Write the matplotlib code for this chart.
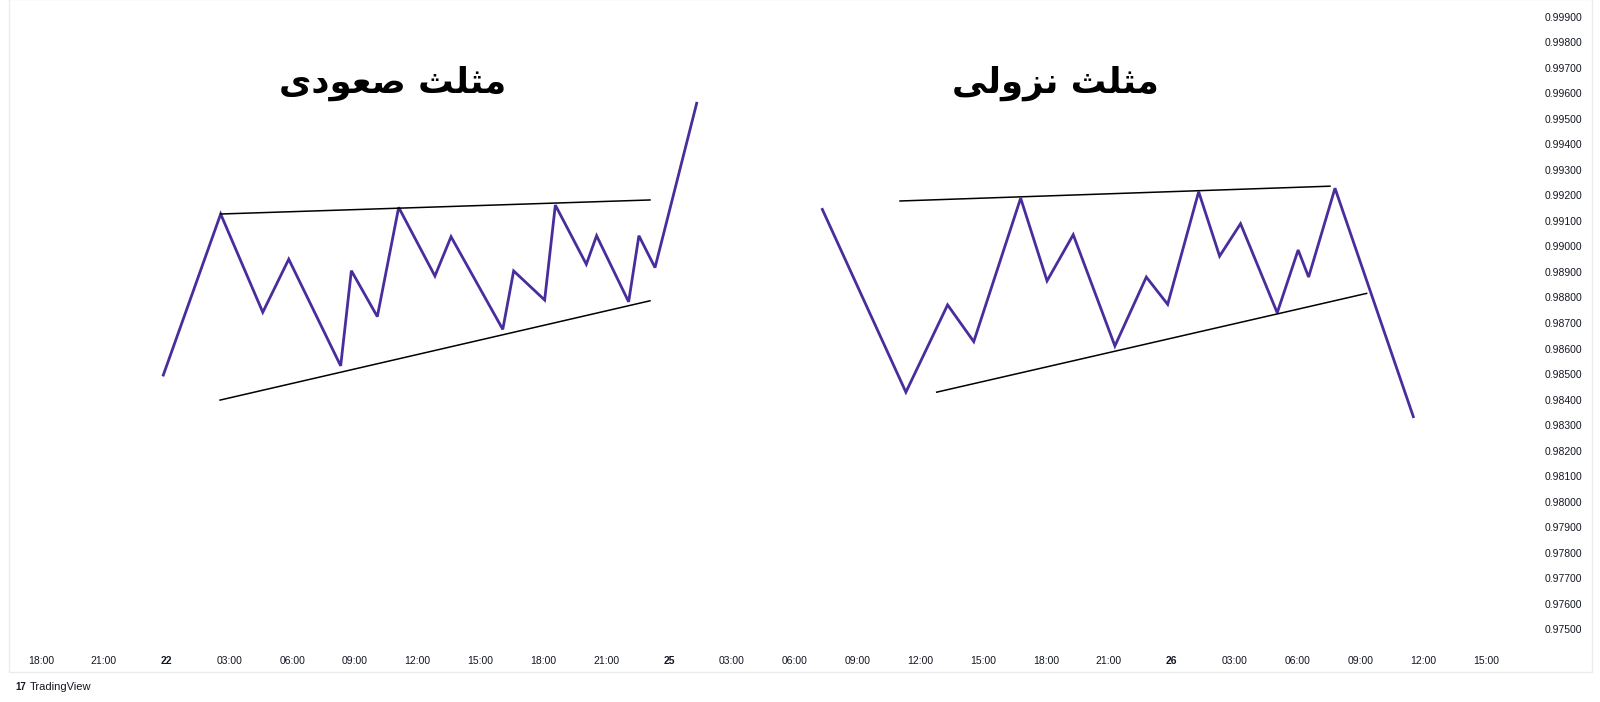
import matplotlib
matplotlib.use("Agg")
import matplotlib.pyplot as plt
from matplotlib.patches import Rectangle

# time axis in trading hours from the first "18:00" label (weekend skipped)
tick_hours = list(range(0, 70, 3))
tick_labels = ["18:00", "21:00", "22", "03:00", "06:00", "09:00", "12:00", "15:00",
               "18:00", "21:00", "25", "03:00", "06:00", "09:00", "12:00", "15:00",
               "18:00", "21:00", "26", "03:00", "06:00", "09:00", "12:00", "15:00"]
price_ticks = [round(0.975 + i * 0.001, 3) for i in range(25)]

# ascending triangle (left)
asc_t = [5.85, 8.59, 10.60, 11.84, 14.32, 14.83, 16.07, 17.09, 18.82, 19.59,
         22.06, 22.58, 24.06, 24.57, 26.05, 26.54, 28.07, 28.56, 29.33, 31.32]
asc_v = [0.98496, 0.99127, 0.98742, 0.98950, 0.98532, 0.98905, 0.98725, 0.99153, 0.98884, 0.99038,
         0.98675, 0.98904, 0.98790, 0.99162, 0.98930, 0.99042, 0.98783, 0.99042, 0.98917, 0.99561]
asc_upper_t = [8.59, 29.09]
asc_upper_v = [0.99127, 0.99182]
asc_lower_t = [8.56, 29.09]
asc_lower_v = [0.98398, 0.98787]

# descending triangle (right)
desc_t = [37.32, 41.31, 43.30, 44.55, 46.79, 48.05, 49.30, 51.29, 52.79, 53.81,
          55.29, 56.29, 57.29, 59.04, 60.04, 60.54, 61.80, 65.54]
desc_v = [0.99145, 0.98429, 0.98771, 0.98627, 0.99189, 0.98865, 0.99046, 0.98610, 0.98880, 0.98773,
          0.99214, 0.98962, 0.99089, 0.98740, 0.98986, 0.98880, 0.99228, 0.98333]
desc_upper_t = [41.03, 61.56]
desc_upper_v = [0.99178, 0.99236]
desc_lower_t = [42.78, 63.31]
desc_lower_v = [0.98429, 0.98816]

# titles, Arabic presentation forms in visual order (matplotlib has no shaping)
title_asc = "\uFBFC\uFEA9\uFEEE\uFECC\uFEBB \uFE9A\uFEE0\uFE9C\uFEE3"   # مثلث صعودی
title_desc = "\uFBFD\uFEDF\uFEED\uFEB0\uFEE7 \uFE9A\uFEE0\uFE9C\uFEE3"  # مثلث نزولی

line_col = "#4a2d9c"
font = ["Liberation Sans", "DejaVu Sans"]

fig = plt.figure(figsize=(16, 7.02), dpi=100)
ax = fig.add_axes([9 / 1600, 57 / 702, 1526 / 1600, 645 / 702])

ax.plot(asc_t, asc_v, color=line_col, lw=2.0, solid_joinstyle="miter")
ax.plot(asc_upper_t, asc_upper_v, color="black", lw=1.1)
ax.plot(asc_lower_t, asc_lower_v, color="black", lw=1.1)
ax.plot(desc_t, desc_v, color=line_col, lw=2.0, solid_joinstyle="miter")
ax.plot(desc_upper_t, desc_upper_v, color="black", lw=1.1)
ax.plot(desc_lower_t, desc_lower_v, color="black", lw=1.1)

ax.text(16.82, 0.99640, title_asc, fontsize=25.5, fontweight="bold", family="DejaVu Sans",
        ha="center", va="center")
ax.text(48.43, 0.99640, title_desc, fontsize=25.5, fontweight="bold", family="DejaVu Sans",
        ha="center", va="center")

ax.set_xlim(-1.518, 71.35)
ax.set_ylim(0.974385, 0.999654)
for s in ax.spines.values():
    s.set_visible(False)

ax.set_xticks(tick_hours)
ax.set_xticklabels(tick_labels)
for lbl in ax.get_xticklabels():
    lbl.set_family(font)
    lbl.set_fontsize(7.5)
    lbl.set_color("#131722")
    if ":" not in lbl.get_text():
        lbl.set_fontweight("bold")
ax.tick_params(axis="x", length=0, pad=8)

ax.yaxis.tick_right()
ax.set_yticks(price_ticks)
ax.set_yticklabels([f"{p:.5f}" for p in price_ticks])
for lbl in ax.get_yticklabels():
    lbl.set_family(font)
    lbl.set_fontsize(7.5)
    lbl.set_color("#131722")
ax.tick_params(axis="y", length=0, pad=7)

# outer chart frame
fig.patches.append(Rectangle((9 / 1600, 30 / 702), 1583 / 1600, 673 / 702,
                             transform=fig.transFigure, fill=False,
                             edgecolor="#ececec", lw=1))

fig.text(15 / 1600, 1 - 687 / 702, "17", fontsize=7, fontweight="bold",
         family=font, va="center", color="#131722")
fig.text(30 / 1600, 1 - 687 / 702, "TradingView", fontsize=8, family=font,
         va="center", color="#131722")

fig.savefig("out.png", dpi=100)
